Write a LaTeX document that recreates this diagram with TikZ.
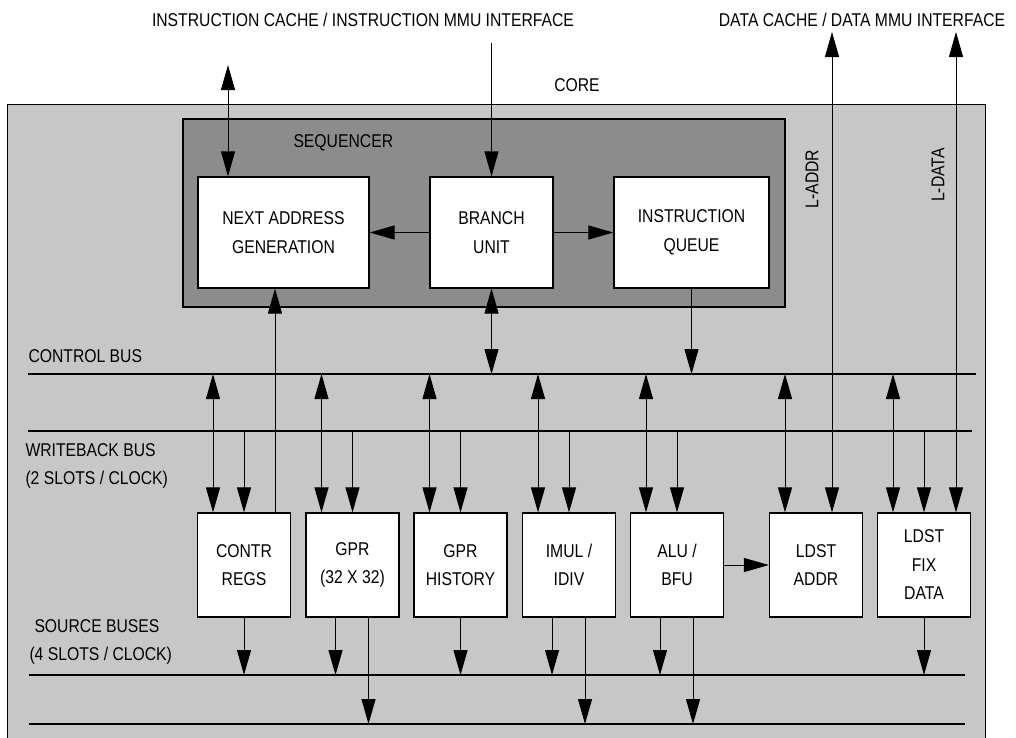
\documentclass[tikz,border=0pt]{standalone}
\usepackage{fontspec}
\setmainfont[FakeStretch=0.85]{Liberation Sans}
\usepackage{tikz}
\usetikzlibrary{calc}
\usetikzlibrary{arrows.meta}

\tikzset{
    unit/.style={draw=black, fill=white, line width=1.2pt, minimum width=93pt, minimum height=104pt, align=center, inner sep=0pt},
    lbl/.style={inner sep=0pt, align=left},
    bus/.style={line width=1.5pt},
}

\begin{document}
\begin{tikzpicture}[x=1pt, y=-1pt, font=\fontsize{18.5}{28.5}\selectfont,
        >={Triangle[length=25pt,width=14pt]}, line width=1pt]
        \clip (0,0) rectangle (1016,737);
        \node [draw=black, fill=black!22, line width=1.4pt, minimum width=978pt, minimum height=660pt, anchor=north west] (core) at (7,104) {};
        \node [draw=black, fill=black!45, line width=1.2pt, minimum width=602pt, minimum height=188pt] (seq) at (484,213) {};
        \node [lbl] (ictitle) at (363,20) {INSTRUCTION CACHE / INSTRUCTION MMU INTERFACE};
        \node [lbl] (dctitle) at (862,20) {DATA CACHE / DATA MMU INTERFACE};
        \node [lbl] (corelbl) at (577,85) {CORE};
        \node [lbl, anchor=west] (seqlbl) at (293,143) {SEQUENCER};
        \node [lbl, rotate=90] (laddrlbl) at (812,179) {L-ADDR};
        \node [lbl, rotate=90] (ldatalbl) at (938,175) {L-DATA};

        \node [unit, minimum width=171pt, minimum height=111pt] (nag) at (283.5,232.5) {NEXT ADDRESS\\GENERATION};
        \node [unit, minimum width=123pt, minimum height=111pt] (bru) at (491.5,232.5) {BRANCH\\UNIT};
        \node [unit, minimum width=155pt, minimum height=111pt] (iq) at (691.5,232.5) {INSTRUCTION\\QUEUE};

        \node [lbl, anchor=west] (cblbl) at (28,356) {CONTROL BUS};
        \node [lbl, anchor=west] (wblbl) at (25,466) {WRITEBACK BUS\\(2 SLOTS / CLOCK)};
        \node [lbl, anchor=west] (sblbl) at (29,642) {\hspace*{5pt}SOURCE BUSES\\(4 SLOTS / CLOCK)};

        \coordinate (cb1) at (28,374);
        \coordinate (cb2) at (976,374);
        \coordinate (wb1) at (28,431);
        \coordinate (wb2) at (972,431);
        \coordinate (sb1) at (29,675);
        \coordinate (sb2) at (965,675);
        \coordinate (sc1) at (29,724);
        \coordinate (sc2) at (965,724);
        \draw[bus] (cb1) -- (cb2);
        \draw[bus] (wb1) -- (wb2);
        \draw[bus] (sb1) -- (sb2);
        \draw[bus] (sc1) -- (sc2);

        \node [unit] (contr) at (244,565) {CONTR\\REGS};
        \node [unit] (gpr) at (352.5,565) {GPR\\(32 X 32)};
        \node [unit] (ghist) at (460.5,565) {GPR\\HISTORY};
        \node [unit] (imul) at (569,565) {IMUL /\\IDIV};
        \node [unit] (alu) at (677,565) {ALU /\\BFU};
        \node [unit] (ldaddr) at (816,565) {LDST\\ADDR};
        \node [unit] (ldfix) at (924,565) {LDST\\FIX\\DATA};

        \coordinate (icache) at (228,65);
        \coordinate (ifetch) at (491.5,43);
        \coordinate (dcaddr) at (832,32);
        \coordinate (dcdata) at (956,32);
        \draw[<->] (icache) -- (icache |- nag.north);
        \draw[->] (ifetch) -- (bru.north);
        \draw[<->] (dcaddr) -- (dcaddr |- ldaddr.north);
        \draw[<->] (dcdata) -- (dcdata |- ldfix.north);

        \draw[->] (bru) -- (nag);
        \draw[->] (bru) -- (iq);
        \draw[<->] (bru.south) -- (bru.south |- cb1);
        \draw[->] (iq.south) -- (iq.south |- cb1);
        \draw[->] ([xshift=31pt]contr.north) -- ([xshift=31pt]contr.north |- nag.south);
        \draw[->] (alu) -- (ldaddr);

        \foreach \b in {contr, gpr, ghist, imul, alu, ldaddr, ldfix}{
            \coordinate (p) at ([xshift=-31pt]\b.north);
            \draw[<->] (p |- cb1) -- (p);
        }
        \foreach \b in {contr, gpr, ghist, imul, alu, ldfix}{
            \draw[->] (\b.north |- wb1) -- (\b.north);
        }
        \foreach \b in {contr, ghist, ldfix}{
            \draw[->] (\b.south) -- (\b.south |- sb1);
        }
        \foreach \b in {gpr, imul, alu}{
            \coordinate (p) at ([xshift=-17pt]\b.south);
            \coordinate (q) at ([xshift=16pt]\b.south);
            \draw[->] (p) -- (p |- sb1);
            \draw[->] (q) -- (q |- sc1);
        }
    \end{tikzpicture}
\end{document}
